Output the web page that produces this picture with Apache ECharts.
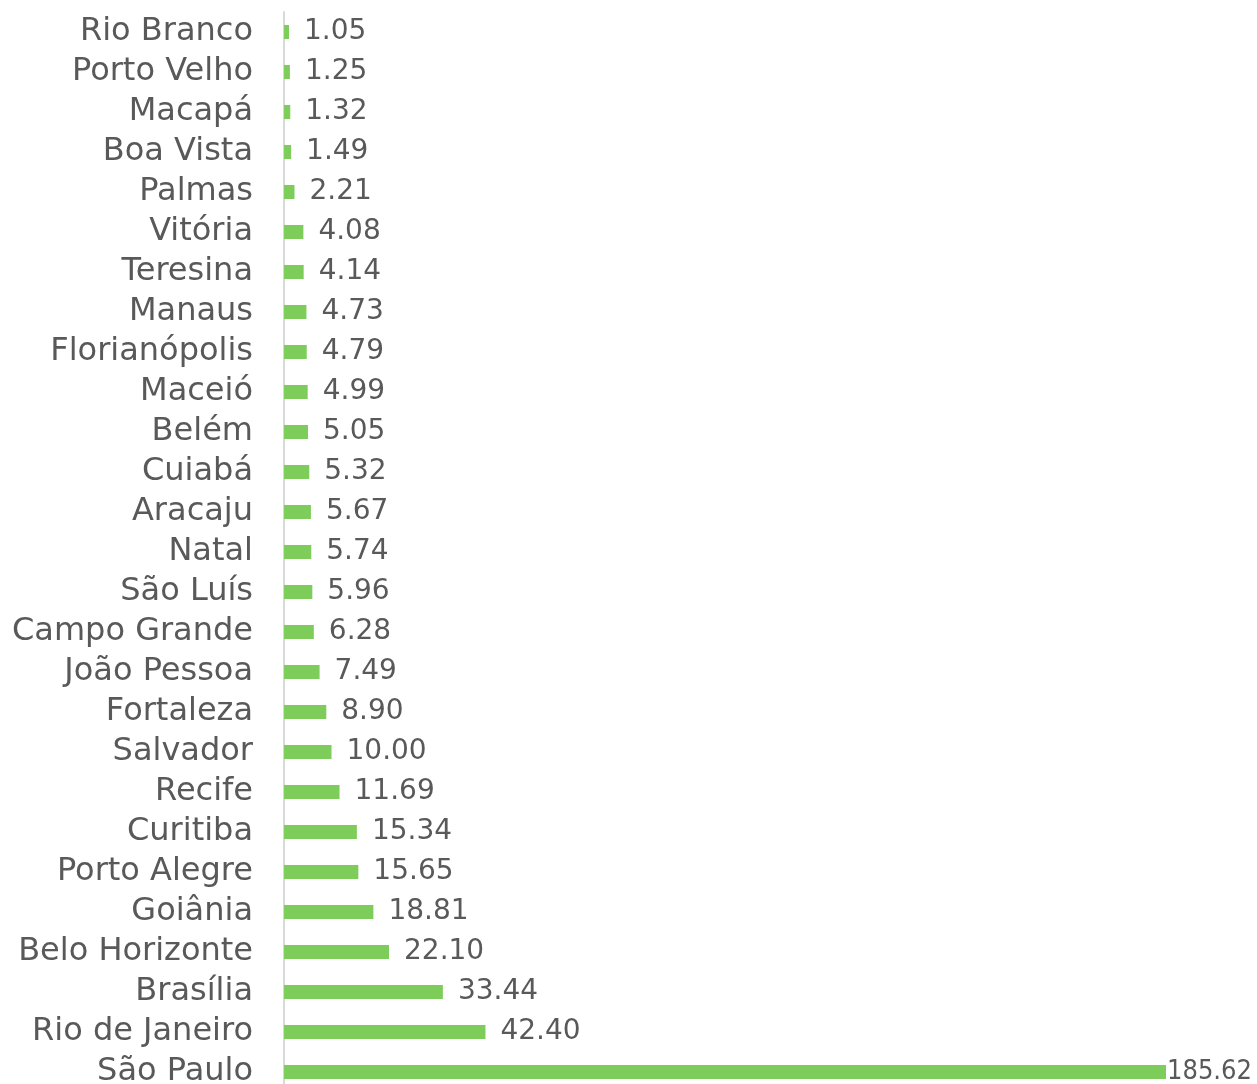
<!DOCTYPE html>
<html><head><meta charset="utf-8">
<script src="https://cdn.jsdelivr.net/npm/echarts@6/dist/echarts.min.js"></script>
<style>html,body{margin:0;padding:0;background:#fff;overflow:hidden}#c{width:1257px;height:1092px}</style>
</head><body><div id="c"></div>
<script>
const categories = ["Rio Branco","Porto Velho","Macapá","Boa Vista","Palmas","Vitória","Teresina","Manaus","Florianópolis","Maceió","Belém","Cuiabá","Aracaju","Natal","São Luís","Campo Grande","João Pessoa","Fortaleza","Salvador","Recife","Curitiba","Porto Alegre","Goiânia","Belo Horizonte","Brasília","Rio de Janeiro","São Paulo"];
const values = [1.05,1.25,1.32,1.49,2.21,4.08,4.14,4.73,4.79,4.99,5.05,5.32,5.67,5.74,5.96,6.28,7.49,8.90,10.00,11.69,15.34,15.65,18.81,22.10,33.44,42.40,185.62];

const maxV = Math.max(...values);
const chart = echarts.init(document.getElementById('c'));
chart.setOption({
  animation:false,
  grid:{left:284,right:91,top:12,bottom:0,containLabel:false},
  xAxis:{type:'value',min:0,max:maxV,show:false},
  yAxis:{type:'category',data:categories,inverse:true,
    axisLine:{show:true,lineStyle:{color:'#d9d9d9',width:2}},
    axisTick:{show:false},
    axisLabel:{interval:0,color:'#595959',fontFamily:'DejaVu Sans',fontSize:32,margin:31}
  },
  series:[{type:'bar',barWidth:14,
    itemStyle:{color:'#7ecd5a'},
    data:values.map((v,i)=>({value:v,label: i===values.length-1
      ? {distance:1,fontFamily:'DejaVu Sans Condensed',fontSize:27}
      : {distance:15}})),
    label:{show:true,position:'right',color:'#595959',fontFamily:'DejaVu Sans',fontSize:28,
      formatter:p=>p.value.toFixed(2)}
  }]
});
</script></body></html>
